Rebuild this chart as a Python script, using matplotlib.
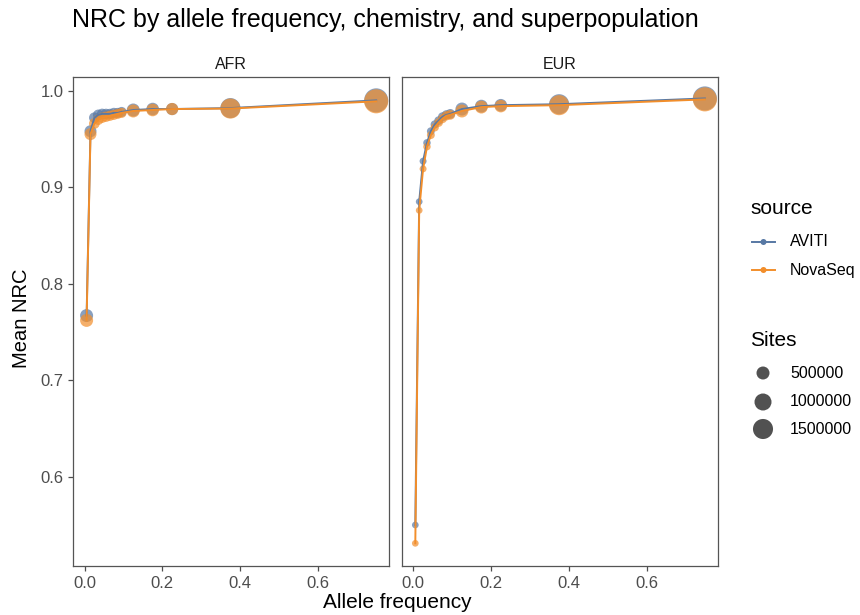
import numpy as np
import matplotlib
matplotlib.use('Agg')
import matplotlib.pyplot as plt

plt.rcParams['font.family'] = ['Liberation Sans', 'DejaVu Sans']

# allele frequency bin midpoints
af = [0.005, 0.015, 0.025, 0.035, 0.045, 0.055, 0.065, 0.075, 0.085, 0.095,
      0.125, 0.175, 0.225, 0.375, 0.75]

afr_aviti = [0.767, 0.958, 0.972, 0.975, 0.976, 0.976, 0.976, 0.977, 0.977, 0.978,
             0.980, 0.981, 0.981, 0.982, 0.990]
afr_novaseq = [0.762, 0.955, 0.966, 0.970, 0.972, 0.973, 0.974, 0.975, 0.976, 0.977,
               0.979, 0.980, 0.981, 0.9815, 0.989]
eur_aviti = [0.550, 0.885, 0.927, 0.946, 0.958, 0.965, 0.969, 0.973, 0.975, 0.976,
             0.981, 0.984, 0.985, 0.986, 0.992]
eur_novaseq = [0.531, 0.876, 0.919, 0.942, 0.954, 0.962, 0.967, 0.971, 0.974, 0.975,
               0.979, 0.983, 0.984, 0.985, 0.991]

afr_sites = [500000, 400000, 290000, 280000, 270000, 260000, 250000, 250000, 240000, 240000,
             500000, 460000, 420000, 1500000, 2300000]
eur_sites = [60000, 60000, 70000, 90000, 110000, 130000, 150000, 170000, 190000, 220000,
             500000, 480000, 450000, 1500000, 2300000]

size_breaks = [500000, 1000000, 1500000]

panels = ['AFR', 'EUR']
sources = ['AVITI', 'NovaSeq']
colors = {'AVITI': '#5778a4', 'NovaSeq': '#f28e2b'}
data = {
    'AFR': {'AVITI': afr_aviti, 'NovaSeq': afr_novaseq, 'sites': afr_sites},
    'EUR': {'AVITI': eur_aviti, 'NovaSeq': eur_novaseq, 'sites': eur_sites},
}


def marker_area(v):
    # diameter in px ~ 3.35 + 13.65*sqrt(sites/1e6), converted to pt^2
    d_px = 3.35 + 13.65 * np.sqrt(np.asarray(v) / 1e6)
    return (d_px * 0.72) ** 2


fig = plt.figure(figsize=(8.6, 6.15), dpi=100)
tick_col = '#4d4d4d'
lefts = [73 / 860, 401.7 / 860]
for i, p in enumerate(panels):
    ax = fig.add_axes([lefts[i], 1 - 566 / 615, 316 / 860, 489 / 615])
    s = marker_area(data[p]['sites'])
    for src in sources:
        ax.scatter(af, data[p][src], s=s, color=colors[src], alpha=0.7,
                   edgecolors='none', zorder=2)
    for src in sources:
        ax.plot(af, data[p][src], color=colors[src], lw=1.4, zorder=3)
    ax.set_xlim(-0.030, 0.783)
    ax.set_ylim(0.5075, 1.0142)
    ax.set_xticks([0.0, 0.2, 0.4, 0.6])
    ax.set_xticklabels(['0.0', '0.2', '0.4', '0.6'])
    ax.set_yticks([0.6, 0.7, 0.8, 0.9, 1.0])
    if i == 0:
        ax.set_yticklabels(['0.6', '0.7', '0.8', '0.9', '1.0'])
    else:
        ax.tick_params(axis='y', left=False, labelleft=False)
    for sp in ax.spines.values():
        sp.set_color('#555555')
        sp.set_linewidth(0.9)
    ax.tick_params(colors=tick_col, labelcolor=tick_col, labelsize=12,
                   length=3.5, width=0.9)
    ax.set_title(p, fontsize=11.5, color='#1a1a1a', pad=6)

fig.text(72 / 860, 1 - 20 / 615, 'NRC by allele frequency, chemistry, and superpopulation',
         fontsize=18, ha='left', va='center')
fig.text(397 / 860, 1 - 603 / 615, 'Allele frequency', fontsize=15, ha='center', va='center')
fig.text(22 / 860, 1 - 318 / 615, 'Mean NRC', fontsize=14.5, ha='center', va='center',
         rotation=90)

# legends drawn on an overlay in pixel coordinates
lg = fig.add_axes([0, 0, 1, 1])
lg.set_xlim(0, 860)
lg.set_ylim(615, 0)
lg.axis('off')

lg.text(750, 208, 'source', fontsize=15, ha='left', va='center')
for src, yy in zip(sources, [242, 270]):
    lg.plot([752, 775], [yy, yy], color=colors[src], lw=1.4)
    lg.scatter([763.5], [yy], s=(6 * 0.72) ** 2, color=colors[src], edgecolors='none')
    lg.text(790, yy, src, fontsize=11.5, ha='left', va='center')

lg.text(750, 340, 'Sites', fontsize=15, ha='left', va='center')
for b, yy in zip(size_breaks, [373, 402, 429]):
    lg.scatter([763], [yy], s=marker_area(b), color='#333333', alpha=0.85,
               edgecolors='none')
    lg.text(790, yy, str(b), fontsize=11.5, ha='left', va='center')

fig.savefig('out.png', dpi=100)
